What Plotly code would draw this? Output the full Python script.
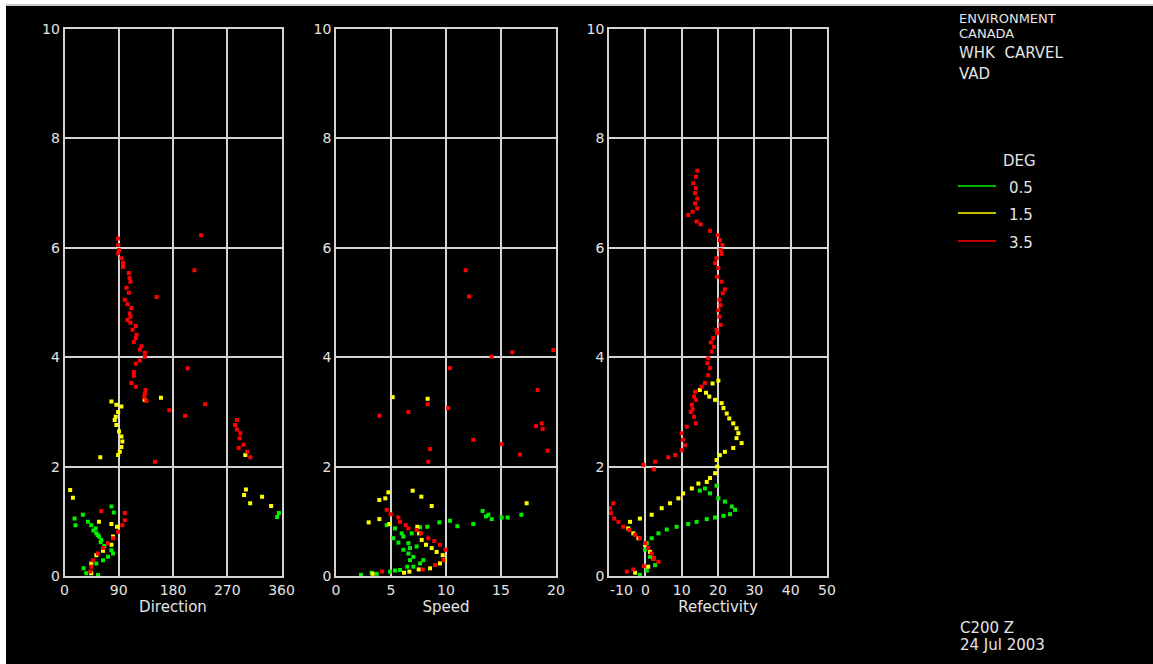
import plotly.graph_objects as go

# ---------------- DATA (height in km) ----------------
# Panel 1: Direction (deg)
dir_red_x = [88.9, 89, 90.5, 89, 94.4, 97.2, 97, 106.7, 108, 109.4, 102.8, 106.7, 100, 104.4, 111, 108.3,
             109.4, 104.4, 109.4, 118.3, 112.8, 119.4, 118.3, 115, 127.8, 125, 133.3, 133.3, 125, 118.3,
             115, 115, 111, 118.3, 134.4, 133.3, 132.2, 136,
             226.7, 215.6, 152.8, 204.4, 233.3, 173.9, 200, 150,
             286, 283, 286, 291.7, 290.6, 288.9, 297, 302.8, 308.3,
             61, 100, 100, 96, 89, 80.6, 72.2, 63.9, 55.6, 47.2, 44.4, 42.8]
dir_red_h = [6.17, 6.05, 5.96, 5.9, 5.81, 5.72, 5.65, 5.54, 5.45, 5.38, 5.27, 5.18, 5.05, 4.97, 4.9, 4.8,
             4.74, 4.68, 4.63, 4.57, 4.5, 4.41, 4.35, 4.28, 4.2, 4.14, 4.08, 4.01, 3.94, 3.88,
             3.73, 3.66, 3.53, 3.46, 3.4, 3.33, 3.27, 3.2,
             6.23, 5.59, 5.1, 3.8, 3.14, 3.03, 2.93, 2.09,
             2.85, 2.76, 2.68, 2.61, 2.52, 2.34, 2.4, 2.27, 2.17,
             1.19, 1.15, 1.02, 0.93, 0.81, 0.69, 0.6, 0.51, 0.41, 0.29, 0.17, 0.08]
dir_yel_x = [77.8, 86, 94.4, 89, 85, 83.3, 86, 90.5, 94.4, 96, 94.4, 91.7, 89, 59.4, 160, 133,
             301, 298, 327.8, 308, 342.8, 300,
             9.4, 13.9, 57.2, 77.8,
             87.2, 80.6, 77.8, 63.9, 52.8, 44.4, 44.4]
dir_yel_h = [3.19, 3.13, 3.1, 3.0, 2.91, 2.85, 2.76, 2.64, 2.55, 2.46, 2.36, 2.27, 2.21, 2.17, 3.26, 3.22,
             1.58, 1.48, 1.45, 1.33, 1.28, 2.21,
             1.57, 1.43, 0.99, 0.95,
             0.9, 0.72, 0.57, 0.46, 0.38, 0.23, 0.05]
dir_grn_x = [77.8, 81.7, 30.5, 16.7, 18.3, 38.9, 44.4, 51.7, 52.8, 57.2, 61, 77.8, 80.6, 72.2, 63.9,
             52.8, 31.7, 36.1, 55.6, 355.6, 352.8, 48, 55, 60, 66]
dir_grn_h = [1.27, 1.16, 1.12, 1.05, 0.93, 0.99, 0.93, 0.87, 0.78, 0.72, 0.66, 0.47, 0.41, 0.35, 0.29,
             0.23, 0.14, 0.05, 0.02, 1.15, 1.08, 0.83, 0.75, 0.62, 0.55]

# Panel 2: Speed
spd_red_x = [11.79, 12.09, 14.15, 16.03, 19.76, 10.36, 18.33, 3.94, 6.58, 8.33, 10.2, 18.7, 18.18, 18.79,
             12.48, 15.06, 16.73, 19.24, 8.55, 8.39,
             4.61, 4.97, 5.67, 5.82, 6.33, 6.58, 7.33, 7.73, 8.39, 8.94, 9.45, 9.97, 9.76, 9.0, 7.88, 4.2]
spd_red_h = [5.59, 5.11, 4.01, 4.09, 4.13, 3.8, 3.4, 2.93, 3.0, 3.14, 3.07, 2.79, 2.74, 2.69,
             2.49, 2.41, 2.22, 2.29, 2.32, 2.09,
             1.21, 1.13, 1.07, 0.99, 0.93, 0.87, 0.84, 0.78, 0.69, 0.64, 0.57, 0.48, 0.29, 0.2, 0.12, 0.08]
spd_yel_x = [5.15, 8.33, 4.76, 6.97, 4.48, 3.94, 7.76, 8.7, 17.33, 2.97, 3.94, 4.85,
             7.39, 7.55, 7.79, 8.18, 8.7, 9.15, 9.7, 9.91, 9.45, 8.55, 7.52, 6.67, 6.18, 3.33]
spd_yel_h = [3.27, 3.24, 1.53, 1.56, 1.42, 1.39, 1.45, 1.28, 1.33, 0.98, 1.04, 0.95,
             0.9, 0.78, 0.66, 0.57, 0.51, 0.44, 0.38, 0.29, 0.23, 0.14, 0.12, 0.08, 0.06, 0.04]
spd_grn_x = [13.33, 13.85, 13.64, 14.15, 15.06, 15.6, 16.85, 12.48, 11.03, 10.36, 9.39, 8.3, 7.64, 6.88,
             5.36, 4.61, 5.21, 5.67, 6.12, 6.58, 6.73, 6.12, 6.58, 7.03, 6.73, 7.64, 7.94, 7.03, 6.48,
             5.82, 5.36, 4.91, 3.7, 3.24, 2.27, 7.33, 5.97]
spd_grn_h = [1.19, 1.12, 1.09, 1.04, 1.07, 1.07, 1.12, 0.95, 0.91, 1.01, 0.98, 0.9, 0.89, 0.78,
             0.87, 0.93, 0.69, 0.61, 0.72, 0.6, 0.51, 0.48, 0.41, 0.35, 0.29, 0.23, 0.29, 0.17, 0.17,
             0.11, 0.1, 0.08, 0.04, 0.06, 0.02, 0.54, 0.78]

# Panel 3: Reflectivity
ref_red_x = [14.3, 13.94, 13.2, 13.94, 13.67, 14.3, 13.67, 14.3, 13.0, 11.8, 14.1, 15.2, 17.8, 19.9, 20.5,
             21.2, 20.7, 21.0, 19.6, 19.2, 20.1, 19.8, 21.0, 21.9, 21.3, 20.4, 20.7, 20.1, 20.4, 20.7,
             19.6, 19.8, 18.7, 18.0, 18.9, 18.3, 17.3, 17.1, 17.8, 17.3, 16.4, 15.5, 13.7, 13.4, 13.9,
             12.8, 13.0, 12.5, 13.4, 13.9, 11.4, 10.0, 10.3, 10.9, 10.0, 8.2, 6.3, 2.7, -0.56, 2.4,
             -8.8, -9.7, -9.5, -8.6, -7.4, -6.1, -4.4, -2.8, -1.5, -0.1, 0.8, 1.75, 3.6, 2.2, -0.4,
             -3.3, -5.1]
ref_red_h = [7.41, 7.3, 7.18, 7.09, 7.0, 6.9, 6.81, 6.72, 6.66, 6.6, 6.48, 6.43, 6.31, 6.23, 6.14,
             6.05, 5.96, 5.89, 5.81, 5.72, 5.63, 5.47, 5.38, 5.24, 5.17, 5.05, 4.95, 4.86, 4.74, 4.59,
             4.5, 4.44, 4.35, 4.27, 4.19, 4.1, 3.98, 3.89, 3.8, 3.67, 3.53, 3.46, 3.37, 3.28, 3.22,
             3.13, 3.05, 3.0, 2.91, 2.79, 2.73, 2.61, 2.49, 2.39, 2.3, 2.21, 2.17, 2.09, 2.03, 1.95,
             1.33, 1.24, 1.15, 1.05, 0.99, 0.9, 0.84, 0.75, 0.69, 0.6, 0.51, 0.41, 0.26, 0.32, 0.18,
             0.12, 0.08]
ref_yel_x = [20.1, 18.5, 15.0, 16.7, 17.6, 19.2, 21.0, 21.5, 22.4, 23.1, 24.2, 25.1, 25.6, 25.1, 26.5,
             24.2, 21.9, 20.5, 19.6, 19.8, 19.2, 17.8, 16.9, 14.6, 12.8, 10.4, 9.1, 6.8, 4.5, 1.75,
             -1.5, -4.2, -4.7, -3.3, -1.9, -0.1, 1.3, 2.2, 0.8, -2.8]
ref_yel_h = [3.57, 3.52, 3.4, 3.35, 3.28, 3.22, 3.16, 3.07, 2.97, 2.88, 2.79, 2.7, 2.61, 2.52, 2.43,
             2.34, 2.27, 2.21, 2.12, 2.0, 1.88, 1.79, 1.72, 1.69, 1.6, 1.51, 1.42, 1.33, 1.24, 1.12,
             1.05, 0.99, 0.87, 0.78, 0.69, 0.57, 0.44, 0.32, 0.17, 0.06]
ref_grn_x = [19.6, 16.4, 15.0, 17.8, 20.1, 21.9, 23.8, 24.7, 23.3, 21.5, 19.2, 16.9, 14.1, 11.8, 8.6,
             5.9, 3.6, 1.75, 0.4, -0.1, 1.3, 2.7, 0.4, -1.5]
ref_grn_h = [1.65, 1.6, 1.56, 1.51, 1.42, 1.36, 1.27, 1.21, 1.13, 1.1, 1.07, 1.04, 0.99, 0.95, 0.9,
             0.85, 0.78, 0.69, 0.6, 0.48, 0.35, 0.2, 0.1, 0.02]

dir_ticks = [0, 90, 180, 270, 360]
spd_ticks = [0, 5, 10, 15, 20]
ref_ticks = [-10, 0, 10, 20, 30, 40, 50]
h_ticks = [0, 2, 4, 6, 8, 10]
titles = ["Direction", "Speed", "Refectivity"]
legend_title = "DEG"
elev_labels = ["0.5", "1.5", "3.5"]
header_lines = ["ENVIRONMENT", "CANADA", "WHK  CARVEL", "VAD"]
footer_lines = ["C200 Z", "24 Jul 2003"]

# ---------------- STYLE ----------------
OX, OY = 6, 4            # page offset of the figure (white page border)
W, H = 1153 - OX, 664 - OY
GREEN, YELLOW, RED = "#00f000", "#ffff00", "#ff0000"
GRID = "#d4d4d4"
TXT = "#e4e4e4"
FONT = "DejaVu Sans"

def px(x):
    return (x - OX) / W

def py(y):
    return 1 - (y - OY) / H

fig = go.Figure()

panels = [
    (dict(x=dir_grn_x, h=dir_grn_h), dict(x=dir_yel_x, h=dir_yel_h), dict(x=dir_red_x, h=dir_red_h)),
    (dict(x=spd_grn_x, h=spd_grn_h), dict(x=spd_yel_x, h=spd_yel_h), dict(x=spd_red_x, h=spd_red_h)),
    (dict(x=ref_grn_x, h=ref_grn_h), dict(x=ref_yel_x, h=ref_yel_h), dict(x=ref_red_x, h=ref_red_h)),
]
axnames = [("x", "y"), ("x2", "y2"), ("x3", "y3")]
for (g, yl, r), (xa, ya) in zip(panels, axnames):
    for d, c in ((g, GREEN), (yl, YELLOW), (r, RED)):
        fig.add_trace(go.Scatter(x=d["x"], y=d["h"], mode="markers", xaxis=xa, yaxis=ya,
                                 marker=dict(symbol="square", size=4, color=c, line=dict(width=0)),
                                 showlegend=False, hoverinfo="skip"))

doms = [(64.5, 281.5), (336, 556), (609, 827)]
ranges = [(0, 360), (0, 20), (-10, 50)]
tvals = [dir_ticks, spd_ticks, ref_ticks]
# the first reflectivity label is drawn separately (nudged right, as in the original)
ttexts = [[str(t) for t in dir_ticks], [str(t) for t in spd_ticks],
          [""] + [str(t) for t in ref_ticks[1:]]]
ydom = [py(576), py(29)]

layout = dict(width=W, height=H, margin=dict(l=0, r=0, t=0, b=0),
              paper_bgcolor="black", plot_bgcolor="black", showlegend=False,
              font=dict(family=FONT, size=15, color=TXT))
for i in range(3):
    sx = "" if i == 0 else str(i + 1)
    axis_common = dict(showgrid=True, gridcolor=GRID, gridwidth=1.5, showline=True, mirror=True,
                       linecolor=GRID, linewidth=1.5, zeroline=False, ticks="", automargin=False,
                       tickfont=dict(family=FONT, size=14, color=TXT), fixedrange=True)
    layout["xaxis" + sx] = dict(domain=[px(doms[i][0]), px(doms[i][1])], range=list(ranges[i]),
                                tickmode="array", tickvals=tvals[i], ticktext=ttexts[i],
                                anchor="y" + sx,
                                title=dict(text=titles[i], standoff=4, font=dict(family=FONT, size=15, color=TXT)),
                                **axis_common)
    layout["yaxis" + sx] = dict(domain=ydom, range=[0, 10], tickmode="array", tickvals=h_ticks,
                                ticktext=[str(t) for t in h_ticks], anchor="x" + sx, **axis_common)
fig.update_layout(**layout)

fig.add_annotation(text=str(ref_ticks[0]), xref="paper", yref="paper", x=px(621), y=py(590),
                   xanchor="center", yanchor="middle", showarrow=False,
                   font=dict(family=FONT, size=14, color=TXT))

# top light rule
fig.add_shape(type="rect", xref="paper", yref="paper", x0=0, x1=1, y0=py(6), y1=1,
              fillcolor="#c8c8c8", line=dict(width=0), layer="above")

# header text
for t, yy, fs in zip(header_lines, [19, 33, 53, 74], [13, 13, 15, 15]):
    fig.add_annotation(text=t, xref="paper", yref="paper", x=px(957), y=py(yy), xanchor="left",
                       yanchor="middle", showarrow=False, font=dict(family=FONT, size=fs, color=TXT))

# legend
fig.add_annotation(text=legend_title, xref="paper", yref="paper", x=px(1001), y=py(161), xanchor="left",
                   yanchor="middle", showarrow=False, font=dict(family=FONT, size=15, color=TXT))
for lab, c, yy in zip(elev_labels, [GREEN, YELLOW, RED], [186, 213, 241]):
    fig.add_shape(type="line", xref="paper", yref="paper", x0=px(958), x1=px(996), y0=py(yy), y1=py(yy),
                  line=dict(color=c, width=1.5))
    fig.add_annotation(text=lab, xref="paper", yref="paper", x=px(1007), y=py(yy + 2), xanchor="left",
                       yanchor="middle", showarrow=False, font=dict(family=FONT, size=15, color=TXT))

# footer
for t, yy in zip(footer_lines, [628, 645]):
    fig.add_annotation(text=t, xref="paper", yref="paper", x=px(958), y=py(yy), xanchor="left",
                       yanchor="middle", showarrow=False, font=dict(family=FONT, size=15, color=TXT))

fig.write_html("out.html",
               post_script="document.body.style.margin='4px 0 0 6px';document.body.style.overflow='hidden';")
